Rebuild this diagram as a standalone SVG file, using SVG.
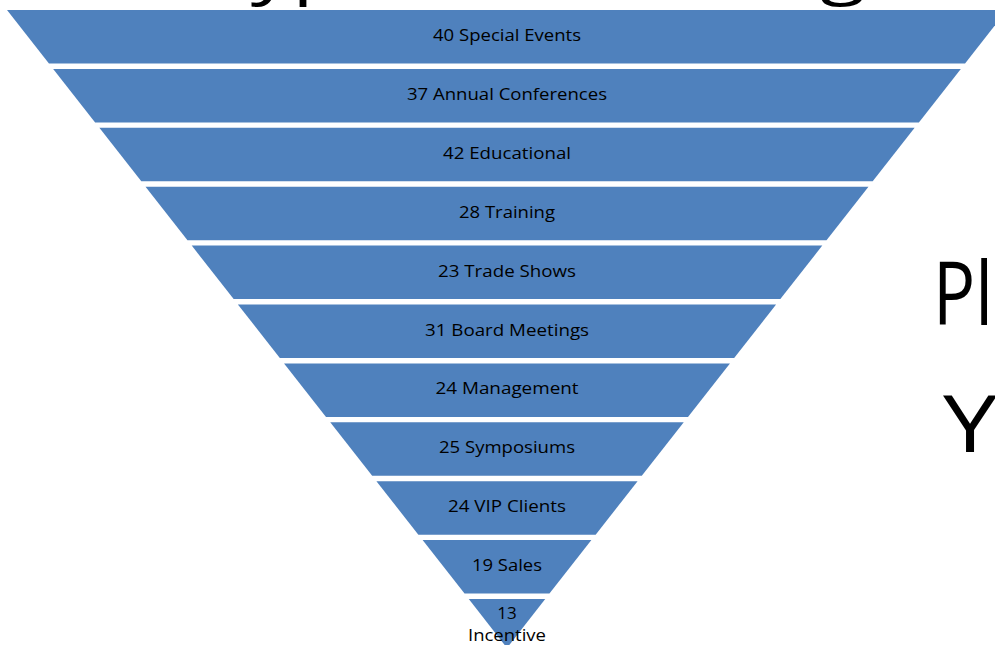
<svg xmlns="http://www.w3.org/2000/svg" width="995" height="645" viewBox="0 0 995 645">
<style>
.band{fill:#4F81BD;stroke:none}
.lbl{font-family:"Open Sans","Liberation Sans",sans-serif;font-size:17px;fill:#000;text-anchor:middle}
.big{font-family:"Open Sans","Liberation Sans",sans-serif;fill:#000}
</style>
<rect width="995" height="645" fill="#fff"/>
<text class="big" x="205" y="-8" font-size="64" textLength="700" lengthAdjust="spacingAndGlyphs">Types of Meetings</text>
<text class="big" x="933" y="325" font-size="88" textLength="60" lengthAdjust="spacingAndGlyphs">Pl</text>
<text class="big" x="943" y="452" font-size="78" textLength="54" lengthAdjust="spacingAndGlyphs">Y</text>
<g id="band1"><polygon class="band" points="7,10 1007,10 965.06,63.5 48.94,63.5"/><text class="lbl" x="507" y="41" textLength="148" lengthAdjust="spacingAndGlyphs">40 Special Events</text></g>
<g id="band2"><polygon class="band" points="53.18,68.9 960.82,68.9 918.88,122.4 95.12,122.4"/><text class="lbl" x="507" y="99.9" textLength="200" lengthAdjust="spacingAndGlyphs">37 Annual Conferences</text></g>
<g id="band3"><polygon class="band" points="99.36,127.8 914.64,127.8 872.70,181.3 141.30,181.3"/><text class="lbl" x="507" y="158.8" textLength="128" lengthAdjust="spacingAndGlyphs">42 Educational</text></g>
<g id="band4"><polygon class="band" points="145.53,186.7 868.47,186.7 826.52,240.2 187.48,240.2"/><text class="lbl" x="507" y="217.7" textLength="96" lengthAdjust="spacingAndGlyphs">28 Training</text></g>
<g id="band5"><polygon class="band" points="191.71,245.6 822.29,245.6 780.35,299.1 233.65,299.1"/><text class="lbl" x="507" y="276.6" textLength="138" lengthAdjust="spacingAndGlyphs">23 Trade Shows</text></g>
<g id="band6"><polygon class="band" points="237.89,304.5 776.11,304.5 734.17,358 279.83,358"/><text class="lbl" x="507" y="335.5" textLength="164" lengthAdjust="spacingAndGlyphs">31 Board Meetings</text></g>
<g id="band7"><polygon class="band" points="284.07,363.4 729.93,363.4 687.99,416.9 326.01,416.9"/><text class="lbl" x="507" y="394.4" textLength="143" lengthAdjust="spacingAndGlyphs">24 Management</text></g>
<g id="band8"><polygon class="band" points="330.24,422.3 683.76,422.3 641.81,475.8 372.19,475.8"/><text class="lbl" x="507" y="453.3" textLength="136" lengthAdjust="spacingAndGlyphs">25 Symposiums</text></g>
<g id="band9"><polygon class="band" points="376.42,481.2 637.58,481.2 595.64,534.7 418.36,534.7"/><text class="lbl" x="507" y="512.2" textLength="118" lengthAdjust="spacingAndGlyphs">24 VIP Clients</text></g>
<g id="band10"><polygon class="band" points="422.60,540.1 591.40,540.1 549.46,593.6 464.54,593.6"/><text class="lbl" x="507" y="571.1" textLength="70" lengthAdjust="spacingAndGlyphs">19 Sales</text></g>
<g id="band11"><polygon class="band" points="468.78,599 545.22,599 507,648"/><text class="lbl" x="507" y="619">13</text><text class="lbl" x="507" y="641" textLength="78" lengthAdjust="spacingAndGlyphs">Incentive</text></g>
</svg>
